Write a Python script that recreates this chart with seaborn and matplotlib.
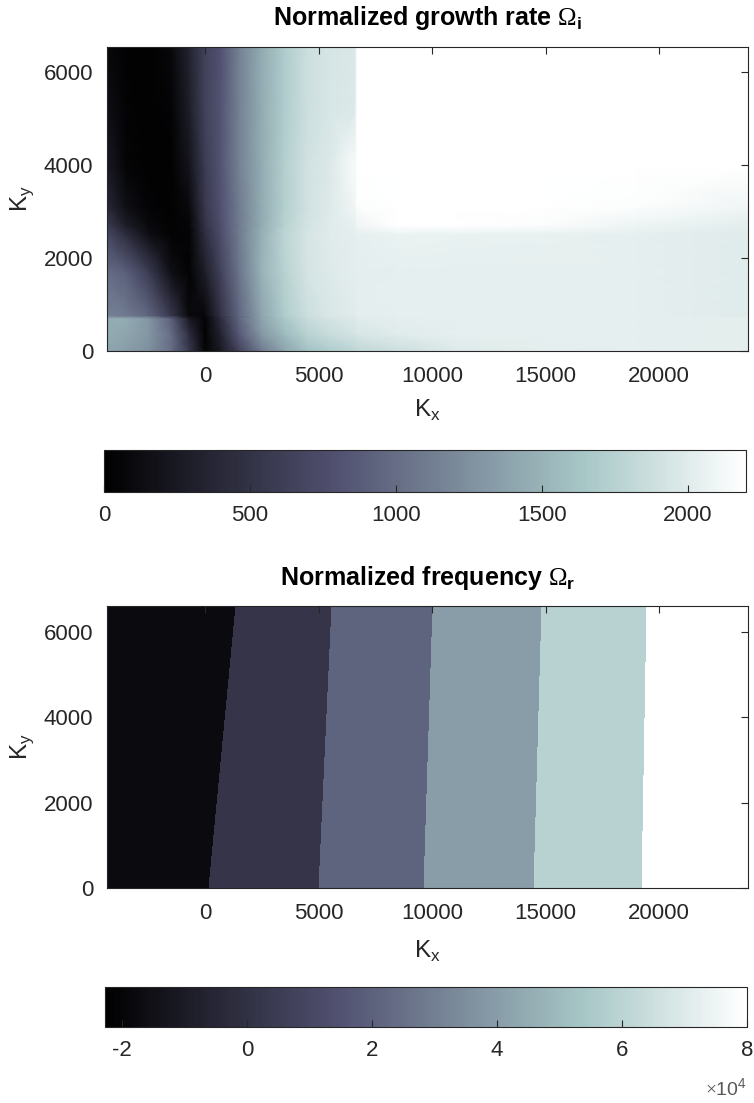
import numpy as np
import matplotlib
matplotlib.use("Agg")
import matplotlib.pyplot as plt
from matplotlib.ticker import FuncFormatter
import seaborn as sns

# ---------------- data ----------------
# Growth-rate field (top panel): node grid
GROWTH_KX = [-4320, -3500, -2500, -1500, -700, 0, 700, 1500, 2500, 3500, 4500,
             5500, 6600, 6700, 8500, 11000, 15000, 19000, 23920]
GROWTH_KY = [0, 350, 700, 760, 1700, 2500, 2700, 3100, 4000, 5200, 6540]
GROWTH_KY0 = [1400, 1350, 1250, 1000, 550, 50, 250, 650, 1100, 1400, 1600, 1700, 1780, 1800, 1880, 1980, 2030, 2040, 2020]
GROWTH_KY350 = [1450, 1400, 1300, 1000, 450, 30, 350, 850, 1300, 1550, 1750, 1850, 1920, 1950, 2000, 2040, 2040, 2040, 2020]
GROWTH_KY700 = [1450, 1450, 1300, 900, 250, 40, 450, 950, 1400, 1650, 1850, 1930, 1980, 2010, 2030, 2040, 2040, 2040, 2020]
GROWTH_KY760 = [1150, 1100, 950, 550, 100, 80, 500, 950, 1400, 1700, 1880, 1960, 2000, 2030, 2040, 2040, 2040, 2040, 2000]
GROWTH_KY1700 = [1000, 900, 600, 150, 30, 300, 650, 1050, 1500, 1750, 1930, 1990, 2020, 2030, 2040, 2040, 2040, 2040, 2000]
GROWTH_KY2500 = [700, 450, 150, 30, 50, 450, 760, 1100, 1480, 1780, 1940, 2000, 2030, 2040, 2070, 2060, 2050, 2040, 2000]
GROWTH_KY2700 = [600, 300, 100, 30, 60, 500, 780, 1100, 1450, 1750, 1920, 2000, 2050, 2100, 2200, 2200, 2170, 2080, 2020]
GROWTH_KY3100 = [400, 150, 40, 20, 100, 550, 800, 1100, 1450, 1720, 1900, 1990, 2100, 2180, 2200, 2200, 2200, 2180, 2100]
GROWTH_KY4000 = [250, 60, 20, 20, 200, 600, 820, 1150, 1450, 1720, 1900, 1980, 2150, 2200, 2200, 2200, 2200, 2200, 2200]
GROWTH_KY5200 = [150, 40, 20, 40, 300, 650, 820, 1150, 1450, 1700, 1880, 1950, 1980, 2200, 2200, 2200, 2200, 2200, 2200]
GROWTH_KY6540 = [80, 30, 20, 80, 350, 650, 800, 1150, 1450, 1700, 1880, 1940, 1970, 2200, 2200, 2200, 2200, 2200, 2200]

# Frequency field (bottom panel): tilted bands
FREQ_KX_AT_BOTTOM = [-4320, 170, 5000, 9640, 14510, 19270, 23920]
FREQ_KX_AT_TOP = [-4320, 1380, 5600, 10060, 14830, 19490, 23920]
FREQ_KY = [0, 6600]
FREQ_BAND_VALUES = [-17500, 1500, 21000, 40000, 59000, 80000]

X_TICKS = [0, 5000, 10000, 15000, 20000]
Y_TICKS = [0, 2000, 4000, 6000]
CB1_TICKS = [0, 500, 1000, 1500, 2000]
CB2_TICKS = [-20000, 0, 20000, 40000, 60000, 80000]

# ---------------- style ----------------
sns.set_theme(style="white")
plt.rcParams["font.family"] = ["Liberation Sans", "DejaVu Sans"]
plt.rcParams["mathtext.fontset"] = "custom"
plt.rcParams["mathtext.rm"] = "Liberation Serif"
plt.rcParams["mathtext.sf"] = "Liberation Sans"
plt.rcParams["mathtext.bf"] = "Liberation Sans:bold"
plt.rcParams["axes.unicode_minus"] = False
plt.rcParams["axes.axisbelow"] = False

cmap = sns.color_palette("bone", as_cmap=True)
INK = "0.15"

W, H = 754, 1103
fig = plt.figure(figsize=(W / 100, H / 100), dpi=100)


def frac(x0, y0, x1, y1):
    return [x0 / W, 1 - y1 / H, (x1 - x0) / W, (y1 - y0) / H]


ax1 = fig.add_axes(frac(107, 47, 748, 351))
cax1 = fig.add_axes(frac(104, 450, 746, 492))
ax2 = fig.add_axes(frac(107, 606, 748, 888))
cax2 = fig.add_axes(frac(105, 987, 747, 1027))

growth = np.array([GROWTH_KY0, GROWTH_KY350, GROWTH_KY700, GROWTH_KY760,
                   GROWTH_KY1700, GROWTH_KY2500, GROWTH_KY2700, GROWTH_KY3100,
                   GROWTH_KY4000, GROWTH_KY5200, GROWTH_KY6540], dtype=float)
m1 = ax1.pcolormesh(GROWTH_KX, GROWTH_KY, growth, cmap=cmap, shading="gouraud",
                    vmin=0, vmax=2200, rasterized=True, zorder=0)

Xf = np.array([FREQ_KX_AT_BOTTOM, FREQ_KX_AT_TOP], dtype=float)
Yf = np.array([[FREQ_KY[0]] * len(FREQ_KX_AT_BOTTOM), [FREQ_KY[1]] * len(FREQ_KX_AT_TOP)], dtype=float)
m2 = ax2.pcolormesh(Xf, Yf, np.array([FREQ_BAND_VALUES], dtype=float), cmap=cmap,
                    shading="flat", vmin=-22700, vmax=80000, zorder=0)


def style_axes(ax, ylim, title, lab_off):
    ax.set_axisbelow(False)
    ax.set_xlim(-4320, 23920)
    ax.set_ylim(*ylim)
    ax.set_xticks(X_TICKS)
    ax.set_yticks(Y_TICKS)
    ax.tick_params(direction="in", top=True, right=True, length=5, width=0.8,
                   color=INK, labelcolor=INK, labelsize=16)
    ax.tick_params(axis="x", pad=11)
    ax.tick_params(axis="y", pad=10)
    for s in ax.spines.values():
        s.set_linewidth(0.8)
        s.set_color(INK)
        s.set_visible(True)
    ax.text(0.5, 1.073, title, transform=ax.transAxes, ha="center",
            va="baseline", fontsize=18, fontweight="bold", color="black")
    ax.text(0.5, lab_off, r"K$_\mathsf{x}$", transform=ax.transAxes, ha="center",
            va="baseline", fontsize=17.5, color=INK)
    ax.text(-0.133, 0.5, r"K$_\mathsf{y}$", transform=ax.transAxes, ha="center",
            va="center", rotation=90, fontsize=17.5, color=INK)


style_axes(ax1, (0, 6540), r"Normalized growth rate $\Omega_\mathbf{i}$", -0.217)
style_axes(ax2, (0, 6600), r"Normalized frequency $\Omega_\mathbf{r}$", -0.247)

cb1 = fig.colorbar(m1, cax=cax1, orientation="horizontal")
cb1.set_ticks(CB1_TICKS)
cb2 = fig.colorbar(m2, cax=cax2, orientation="horizontal")
cb2.set_ticks(CB2_TICKS)
cb2.ax.xaxis.set_major_formatter(FuncFormatter(lambda v, p: f"{v / 1e4:g}"))
for cb in (cb1, cb2):
    cb.ax.set_axisbelow(False)
    cb.outline.set_linewidth(0.8)
    cb.outline.set_edgecolor(INK)
    cb.ax.tick_params(direction="in", length=5, width=0.8, color=INK,
                      labelcolor=INK, labelsize=16, pad=9)

cax2.text(1.0, -1.52, r"$\times\mathsf{10^4}$", transform=cax2.transAxes,
          ha="right", va="center", fontsize=14, color="0.35")

fig.savefig("out.png", dpi=100)
